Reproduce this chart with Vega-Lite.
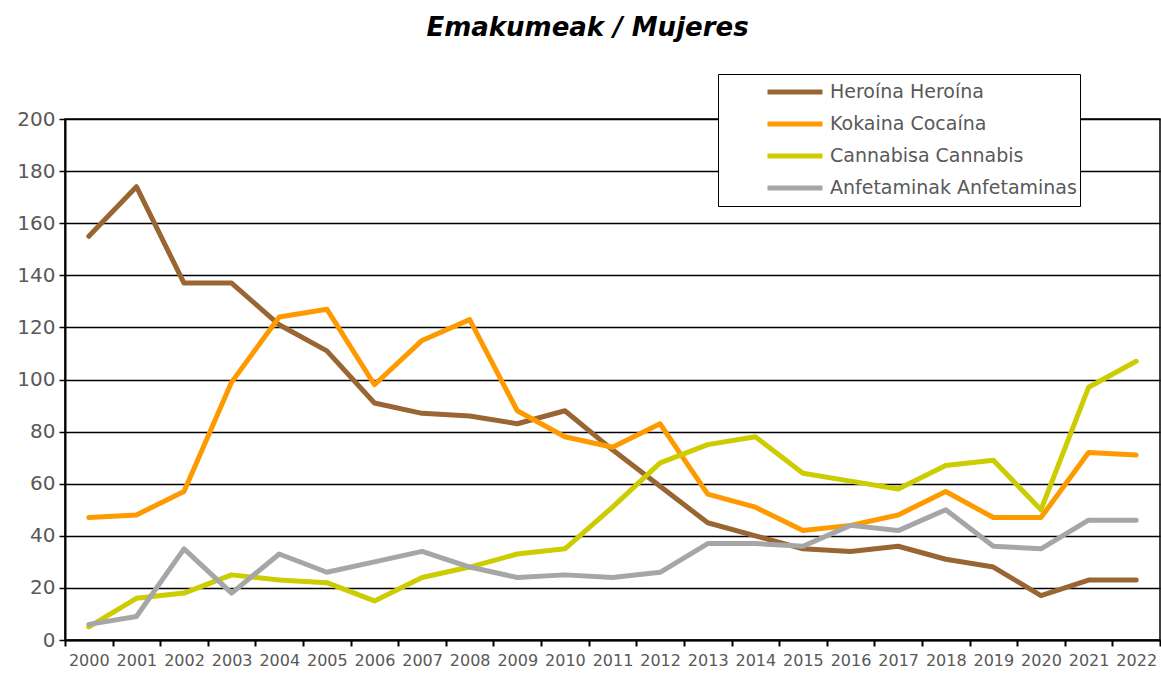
{
  "$schema": "https://vega.github.io/schema/vega-lite/v6.json",
  "width": 1095,
  "height": 521,
  "autosize": {"type": "none"},
  "padding": {"left": 65, "top": 119, "right": 1, "bottom": 33},
  "background": "white",
  "title": {
    "text": "Emakumeak / Mujeres",
    "font": "DejaVu Sans",
    "fontSize": 26,
    "fontWeight": "bold",
    "fontStyle": "italic",
    "color": "black",
    "anchor": "middle",
    "frame": "group",
    "offset": 33,
    "dx": -25
  },
  "config": {
    "view": {"stroke": "black", "strokeWidth": 1.5},
    "font": "DejaVu Sans"
  },
  "data": {
    "values": [
      {"year": "2000", "drug": "Heroína Heroína", "v": 155},
      {"year": "2001", "drug": "Heroína Heroína", "v": 174},
      {"year": "2002", "drug": "Heroína Heroína", "v": 137},
      {"year": "2003", "drug": "Heroína Heroína", "v": 137},
      {"year": "2004", "drug": "Heroína Heroína", "v": 121},
      {"year": "2005", "drug": "Heroína Heroína", "v": 111},
      {"year": "2006", "drug": "Heroína Heroína", "v": 91},
      {"year": "2007", "drug": "Heroína Heroína", "v": 87},
      {"year": "2008", "drug": "Heroína Heroína", "v": 86},
      {"year": "2009", "drug": "Heroína Heroína", "v": 83},
      {"year": "2010", "drug": "Heroína Heroína", "v": 88},
      {"year": "2011", "drug": "Heroína Heroína", "v": 73},
      {"year": "2012", "drug": "Heroína Heroína", "v": 59},
      {"year": "2013", "drug": "Heroína Heroína", "v": 45},
      {"year": "2014", "drug": "Heroína Heroína", "v": 40},
      {"year": "2015", "drug": "Heroína Heroína", "v": 35},
      {"year": "2016", "drug": "Heroína Heroína", "v": 34},
      {"year": "2017", "drug": "Heroína Heroína", "v": 36},
      {"year": "2018", "drug": "Heroína Heroína", "v": 31},
      {"year": "2019", "drug": "Heroína Heroína", "v": 28},
      {"year": "2020", "drug": "Heroína Heroína", "v": 17},
      {"year": "2021", "drug": "Heroína Heroína", "v": 23},
      {"year": "2022", "drug": "Heroína Heroína", "v": 23},
      {"year": "2000", "drug": "Kokaina Cocaína", "v": 47},
      {"year": "2001", "drug": "Kokaina Cocaína", "v": 48},
      {"year": "2002", "drug": "Kokaina Cocaína", "v": 57},
      {"year": "2003", "drug": "Kokaina Cocaína", "v": 99},
      {"year": "2004", "drug": "Kokaina Cocaína", "v": 124},
      {"year": "2005", "drug": "Kokaina Cocaína", "v": 127},
      {"year": "2006", "drug": "Kokaina Cocaína", "v": 98},
      {"year": "2007", "drug": "Kokaina Cocaína", "v": 115},
      {"year": "2008", "drug": "Kokaina Cocaína", "v": 123},
      {"year": "2009", "drug": "Kokaina Cocaína", "v": 88},
      {"year": "2010", "drug": "Kokaina Cocaína", "v": 78},
      {"year": "2011", "drug": "Kokaina Cocaína", "v": 74},
      {"year": "2012", "drug": "Kokaina Cocaína", "v": 83},
      {"year": "2013", "drug": "Kokaina Cocaína", "v": 56},
      {"year": "2014", "drug": "Kokaina Cocaína", "v": 51},
      {"year": "2015", "drug": "Kokaina Cocaína", "v": 42},
      {"year": "2016", "drug": "Kokaina Cocaína", "v": 44},
      {"year": "2017", "drug": "Kokaina Cocaína", "v": 48},
      {"year": "2018", "drug": "Kokaina Cocaína", "v": 57},
      {"year": "2019", "drug": "Kokaina Cocaína", "v": 47},
      {"year": "2020", "drug": "Kokaina Cocaína", "v": 47},
      {"year": "2021", "drug": "Kokaina Cocaína", "v": 72},
      {"year": "2022", "drug": "Kokaina Cocaína", "v": 71},
      {"year": "2000", "drug": "Cannabisa Cannabis", "v": 5},
      {"year": "2001", "drug": "Cannabisa Cannabis", "v": 16},
      {"year": "2002", "drug": "Cannabisa Cannabis", "v": 18},
      {"year": "2003", "drug": "Cannabisa Cannabis", "v": 25},
      {"year": "2004", "drug": "Cannabisa Cannabis", "v": 23},
      {"year": "2005", "drug": "Cannabisa Cannabis", "v": 22},
      {"year": "2006", "drug": "Cannabisa Cannabis", "v": 15},
      {"year": "2007", "drug": "Cannabisa Cannabis", "v": 24},
      {"year": "2008", "drug": "Cannabisa Cannabis", "v": 28},
      {"year": "2009", "drug": "Cannabisa Cannabis", "v": 33},
      {"year": "2010", "drug": "Cannabisa Cannabis", "v": 35},
      {"year": "2011", "drug": "Cannabisa Cannabis", "v": 51},
      {"year": "2012", "drug": "Cannabisa Cannabis", "v": 68},
      {"year": "2013", "drug": "Cannabisa Cannabis", "v": 75},
      {"year": "2014", "drug": "Cannabisa Cannabis", "v": 78},
      {"year": "2015", "drug": "Cannabisa Cannabis", "v": 64},
      {"year": "2016", "drug": "Cannabisa Cannabis", "v": 61},
      {"year": "2017", "drug": "Cannabisa Cannabis", "v": 58},
      {"year": "2018", "drug": "Cannabisa Cannabis", "v": 67},
      {"year": "2019", "drug": "Cannabisa Cannabis", "v": 69},
      {"year": "2020", "drug": "Cannabisa Cannabis", "v": 50},
      {"year": "2021", "drug": "Cannabisa Cannabis", "v": 97},
      {"year": "2022", "drug": "Cannabisa Cannabis", "v": 107},
      {"year": "2000", "drug": "Anfetaminak Anfetaminas", "v": 6},
      {"year": "2001", "drug": "Anfetaminak Anfetaminas", "v": 9},
      {"year": "2002", "drug": "Anfetaminak Anfetaminas", "v": 35},
      {"year": "2003", "drug": "Anfetaminak Anfetaminas", "v": 18},
      {"year": "2004", "drug": "Anfetaminak Anfetaminas", "v": 33},
      {"year": "2005", "drug": "Anfetaminak Anfetaminas", "v": 26},
      {"year": "2006", "drug": "Anfetaminak Anfetaminas", "v": 30},
      {"year": "2007", "drug": "Anfetaminak Anfetaminas", "v": 34},
      {"year": "2008", "drug": "Anfetaminak Anfetaminas", "v": 28},
      {"year": "2009", "drug": "Anfetaminak Anfetaminas", "v": 24},
      {"year": "2010", "drug": "Anfetaminak Anfetaminas", "v": 25},
      {"year": "2011", "drug": "Anfetaminak Anfetaminas", "v": 24},
      {"year": "2012", "drug": "Anfetaminak Anfetaminas", "v": 26},
      {"year": "2013", "drug": "Anfetaminak Anfetaminas", "v": 37},
      {"year": "2014", "drug": "Anfetaminak Anfetaminas", "v": 37},
      {"year": "2015", "drug": "Anfetaminak Anfetaminas", "v": 36},
      {"year": "2016", "drug": "Anfetaminak Anfetaminas", "v": 44},
      {"year": "2017", "drug": "Anfetaminak Anfetaminas", "v": 42},
      {"year": "2018", "drug": "Anfetaminak Anfetaminas", "v": 50},
      {"year": "2019", "drug": "Anfetaminak Anfetaminas", "v": 36},
      {"year": "2020", "drug": "Anfetaminak Anfetaminas", "v": 35},
      {"year": "2021", "drug": "Anfetaminak Anfetaminas", "v": 46},
      {"year": "2022", "drug": "Anfetaminak Anfetaminas", "v": 46}
    ]
  },
  "mark": {"type": "line", "strokeWidth": 5, "strokeJoin": "round", "strokeCap": "round"},
  "encoding": {
    "x": {
      "field": "year",
      "type": "ordinal",
      "scale": {"type": "band", "paddingInner": 0, "paddingOuter": 0},
      "axis": {
        "title": null,
        "labelAngle": 0,
        "tickBand": "extent",
        "labelFontSize": 16,
        "labelColor": "#595959",
        "labelPadding": 6,
        "domainColor": "black",
        "domainWidth": 2,
        "tickColor": "black",
        "tickWidth": 2,
        "tickSize": 6,
        "grid": false
      }
    },
    "y": {
      "field": "v",
      "type": "quantitative",
      "scale": {"domain": [0, 200], "nice": false},
      "axis": {
        "title": null,
        "values": [0, 20, 40, 60, 80, 100, 120, 140, 160, 180, 200],
        "labelFontSize": 20,
        "labelColor": "#595959",
        "labelPadding": 4,
        "domainColor": "black",
        "domainWidth": 2,
        "tickColor": "black",
        "tickWidth": 1.5,
        "tickSize": 6,
        "grid": true,
        "gridColor": "black",
        "gridWidth": 1.5
      }
    },
    "color": {
      "field": "drug",
      "type": "nominal",
      "sort": ["Heroína Heroína", "Kokaina Cocaína", "Cannabisa Cannabis", "Anfetaminak Anfetaminas"],
      "scale": {
        "domain": ["Heroína Heroína", "Kokaina Cocaína", "Cannabisa Cannabis", "Anfetaminak Anfetaminas"],
        "range": ["#996633", "#ff9900", "#cccc00", "#a6a6a6"]
      },
      "legend": {
        "title": null,
        "orient": "none",
        "legendX": 653,
        "legendY": -45,
        "symbolType": "stroke",
        "symbolStrokeWidth": 5,
        "symbolSize": 3025,
        "clipHeight": 30,
        "rowPadding": 2,
        "labelFontSize": 19,
        "labelColor": "#595959",
        "labelOffset": 5,
        "labelLimit": 400,
        "padding": 3,
        "symbolOffset": 44,
        "strokeColor": "black",
        "fillColor": "white"
      }
    }
  }
}
